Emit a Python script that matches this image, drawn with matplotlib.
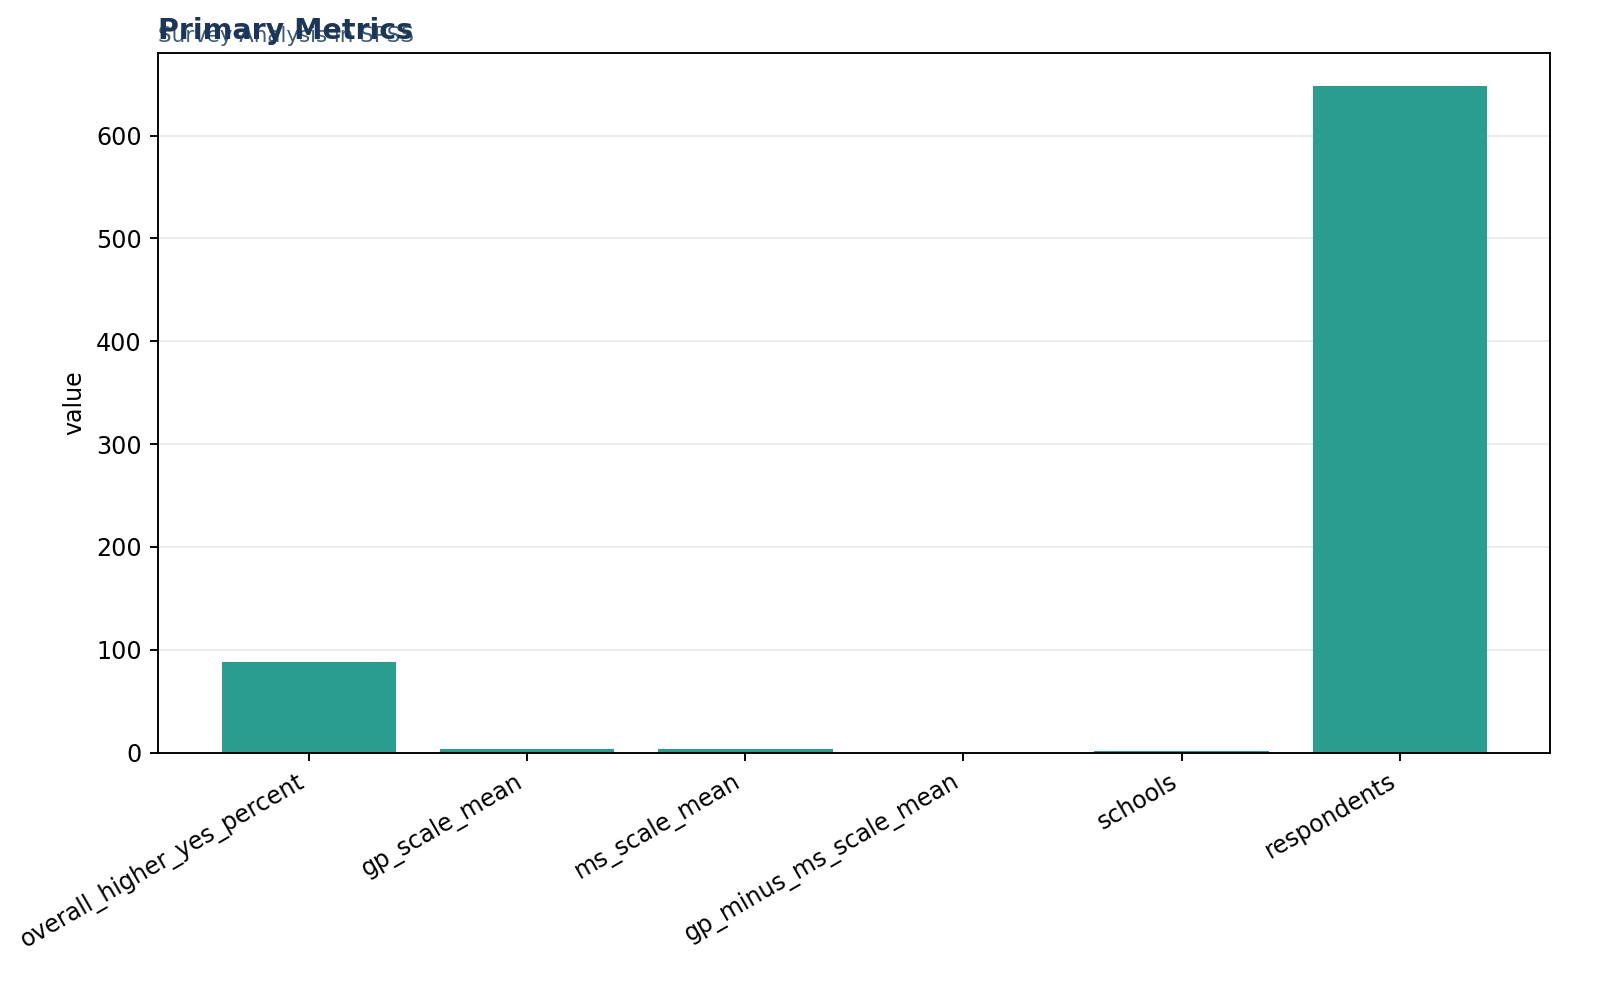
import numpy as np
import matplotlib.pyplot as plt

# metric names and values
metrics = ['overall_higher_yes_percent', 'gp_scale_mean', 'ms_scale_mean',
           'gp_minus_ms_scale_mean', 'schools', 'respondents']
values = [88.5, 3.4, 3.3, 0.1, 1.6, 648]

DPI = 171
fig = plt.figure(figsize=(1600 / DPI, 989 / DPI), dpi=DPI)
ax = fig.add_axes([0.099, 0.239, 0.870, 0.707])

x = np.arange(len(metrics))
ax.bar(x, values, width=0.8, color='#2a9d8f', zorder=2)
ax.grid(axis='y', color='#ececec', linewidth=0.8, zorder=0)
ax.set_axisbelow(True)

ax.set_xticks(x)
ax.set_xticklabels(metrics, rotation=30, ha='right')
ax.set_ylabel('value')
ax.set_ylim(0, 680)

#title + subtitle (they sit on top of each other in the original)
ax.set_title('Primary Metrics', loc='left', fontsize=12, fontweight='bold',
             color='#1d3557')
ax.text(0, 1.01, 'Survey Analysis in SPSS', transform=ax.transAxes,
        fontsize=9, color='#3e5c76', ha='left', va='bottom')

fig.savefig('out.png', dpi=DPI)
